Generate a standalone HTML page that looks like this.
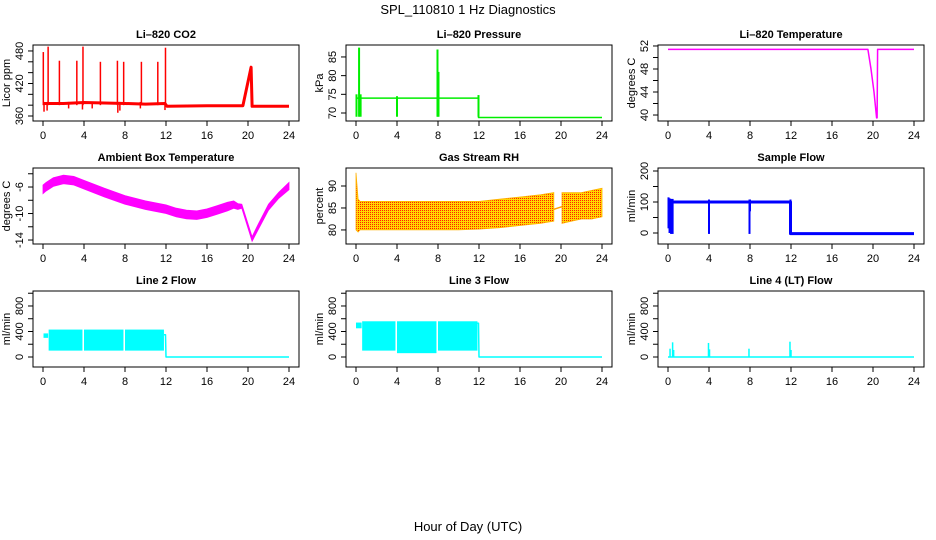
<!DOCTYPE html>
<html><head><meta charset="utf-8">
<style>
html,body{margin:0;padding:0;background:#fff;}
svg{display:block;font-family:"Liberation Sans",Arial,sans-serif;}
</style></head>
<body>
<svg id="chart" width="936" height="540" viewBox="0 0 936 540" xmlns="http://www.w3.org/2000/svg">
<defs>
<pattern id="rhpat" width="2" height="2" patternUnits="userSpaceOnUse">
<rect width="2" height="2" fill="#ffd800"/><rect width="1" height="1" fill="#ff2000"/>
</pattern>
</defs>
<text x="468" y="14" text-anchor="middle" font-size="13">SPL_110810  1 Hz Diagnostics</text>
<text x="468" y="531" text-anchor="middle" font-size="13">Hour of Day (UTC)</text>
</svg>
<script>
// ---------- data ----------
const xTicks = [0,4,8,12,16,20,24];
// CO2
const co2BaseT = [0,2,4,6,8,10,11.9,12.1,16,19.5,20.3,20.4,24];
const co2BaseV = [383,383,385,384,383,382,383,378,379,379,450,378,378];
const co2SpikeT = [0.03,0.5,1.6,3.3,3.9,5.6,7.26,7.87,9.6,11.2,11.95];
const co2SpikeV = [478,488,462,462,488,460,462,460,460,460,486];
const co2DipT = [0.1,0.4,2.5,3.85,4.8,7.3,7.5,9.5,11.9];
const co2DipV = [368,370,374,372,374,366,370,374,371];
// Pressure
const presBaseT = [0,11.95,11.95,24];
const presBaseV = [74,74,68.8,68.8];
const presSpikeT = [0.05,0.3,0.45,4,7.95,8.05,11.95];
const presSpikeLo = [69,69,69,69,69,69,69];
const presSpikeHi = [75,87.5,75,74.5,87,81,74.8];
// Li-820 temperature
const tempT = [0,19.5,19.8,20.1,20.35,20.4,20.45,24];
const tempV = [51.4,51.4,48,44,39.5,39.5,51.4,51.4];
// Ambient box temperature
const ambT = [0,0.3,1,2,3,4,6,8,10,12,13,14,15,16,17,18,18.6,19,19.4,20.4,21,22,23,24];
const ambHi = [-5.7,-5.3,-4.6,-4.2,-4.4,-5.0,-6.2,-7.3,-8.1,-8.7,-9.2,-9.5,-9.6,-9.3,-8.8,-8.3,-8.1,-8.5,-8.6,-13.5,-11.6,-8.6,-6.8,-5.3];
const ambLo = [-7.0,-6.6,-5.9,-5.5,-5.7,-6.3,-7.5,-8.6,-9.4,-10.0,-10.5,-10.8,-10.9,-10.6,-10.1,-9.6,-9.2,-9.4,-9.2,-14.2,-12.4,-9.5,-7.7,-6.4];
// Gas stream RH (two segments)
const rhT1 = [0,0.2,0.4,2,4,6,8,10,12,14,16,18,19.3];
const rhHi1 = [93,87,86.5,86.5,86.5,86.5,86.5,86.5,86.5,87,87.5,88,88.5];
const rhLo1 = [80,79.5,80,80,80,80,80,80,80.2,80.5,81,81.5,82];
const rhT2 = [20.1,21,22,23,24];
const rhHi2 = [88.5,88.5,88.5,89,89.5];
const rhLo2 = [81.5,82,82.5,82.5,83];
const rhGapT = [19.3,20.1];
const rhGapV = [84.7,85.3];
// Sample flow
const sfBaseT = [0.5,11.95,11.95,24];
const sfBaseV = [100,100,-2,-2];
const sfSpikeT = [0.05,0.15,0.3,0.45,4,7.95,8.0,11.95];
const sfSpikeLo = [15,0,-3,-3,-3,-3,70,-3];
const sfSpikeHi = [115,112,110,110,108,108,108,108];
// Line 2
const l2Start = [0.05,0.55,4.0,8.0];
const l2End = [0.5,3.85,7.85,11.8];
const l2Lo = [300,100,100,100];
const l2Hi = [370,430,430,430];
const l2TailT = [11.8,11.95,12.0,24];
const l2TailV = [350,350,0,0];
// Line 3
const l3Start = [0.0,0.6,4.0,8.0];
const l3End = [0.55,3.85,7.85,11.85];
const l3Lo = [450,100,60,100];
const l3Hi = [540,560,560,560];
const l3TailT = [11.85,11.95,12.0,24];
const l3TailV = [530,530,0,0];
// Line 4
const l4BaseT = [0,24];
const l4BaseV = [0,0];
const l4SpikeT = [0.2,0.45,0.55,3.95,4.05,7.9,11.9,12.0];
const l4SpikeV = [130,230,110,220,120,130,240,110];

// ---------- drawing ----------
const NS = "http://www.w3.org/2000/svg";
const svg = document.getElementById('chart');
function mk(tag, attrs, parent){
  const e = document.createElementNS(NS, tag);
  for (const k in attrs) e.setAttribute(k, attrs[k]);
  (parent||svg).appendChild(e);
  return e;
}
const colX = [33,346,658];
const rowY = [45,168,291];
const BW = 266, BH = 76;

function makePanel(col,row,title,ytitle,dom,ticks,labels,name){
  const L = colX[col], T = rowY[row];
  const g = mk('g',{});
  
  
  const xs = t => L + 10 + t*(BW-20)/24;
  const ys = v => T + BH - (v-dom[0])/(dom[1]-dom[0])*BH;
  const tt = mk('text',{x:L+BW/2,y:T-7,'text-anchor':'middle','font-size':11,'font-weight':'bold'},g);
  tt.textContent = title;
  
  
  const box = mk('rect',{x:L,y:T,width:BW,height:BH,fill:'none',stroke:'#000','stroke-width':1},g);
  
  
  const xa = mk('g',{},g);
  
  
  mk('line',{x1:xs(0),x2:xs(24),y1:T+BH,y2:T+BH,stroke:'#000'},xa);
  xTicks.forEach(t=>{
    mk('line',{x1:xs(t),x2:xs(t),y1:T+BH,y2:T+BH+5,stroke:'#000'},xa);
    const lb = mk('text',{x:xs(t),y:T+BH+18,'text-anchor':'middle','font-size':11},xa);
    lb.textContent = t;
    
    
  });
  const ya = mk('g',{},g);
  
  
  ticks.forEach(v=>{
    mk('line',{x1:L,x2:L-5,y1:ys(v),y2:ys(v),stroke:'#000'},ya);
  });
  labels.forEach(v=>{
    const lb = mk('text',{x:0,y:0,'text-anchor':'middle','font-size':11,transform:`translate(${L-10},${ys(v)}) rotate(-90)`},ya);
    lb.textContent = v;
    
    
  });
  const yt = mk('text',{x:0,y:0,'text-anchor':'middle','font-size':11,transform:`translate(${L-23},${T+BH/2}) rotate(-90)`},g);
  yt.textContent = ytitle;
  
  
  const data = mk('g',{},g);
  
  
  return {xs,ys,g:data};
}
function polyline(p,T,V,color,w){
  const pts = T.map((t,i)=>p.xs(t).toFixed(1)+','+p.ys(V[i]).toFixed(1)).join(' ');
  return mk('polyline',{points:pts,fill:'none',stroke:color,'stroke-width':w,'stroke-linejoin':'round'},p.g);
}
function band(p,T,Lo,Hi,fill){
  let d = 'M'+T.map((t,i)=>p.xs(t).toFixed(1)+','+p.ys(Hi[i]).toFixed(1)).join(' L');
  for(let i=T.length-1;i>=0;i--) d += ' L'+p.xs(T[i]).toFixed(1)+','+p.ys(Lo[i]).toFixed(1);
  d += 'Z';
  return mk('path',{d:d,fill:fill,stroke:fill==='url(#rhpat)'?'#ffb000':fill,'stroke-width':0.8},p.g);
}
function vline(p,t,lo,hi,color,w){
  return mk('line',{x1:p.xs(t),x2:p.xs(t),y1:p.ys(lo),y2:p.ys(hi),stroke:color,'stroke-width':w},p.g);
}
function rng(a,b,s){const r=[];for(let v=a;v<=b+1e-9;v+=s)r.push(v);return r;}

let p = makePanel(0,0,'Li\u2013820 CO2','Licor ppm',[350.8,491],rng(360,480,20),[360,420,480],'co2');
let e = polyline(p,co2BaseT,co2BaseV,'#ff0000',3);

co2SpikeT.forEach((t,i)=>{const s=vline(p,t,380,co2SpikeV[i],'#ff0000',1.5);
  });
co2DipT.forEach((t,i)=>{const s=vline(p,t,co2DipV[i],386,'#ff0000',1.5);
  });

p = makePanel(1,0,'Li\u2013820 Pressure','kPa',[67.86,88.2],[70,75,80,85],[70,75,80,85],'pressure');
e = polyline(p,presBaseT,presBaseV,'#00ee00',1.5);

presSpikeT.forEach((t,i)=>{const s=vline(p,t,presSpikeLo[i],presSpikeHi[i],'#00ee00',2);
  });

p = makePanel(2,0,'Li\u2013820 Temperature','degrees C',[38.96,52.17],rng(40,52,2),[40,44,48,52],'li820-temp');
e = polyline(p,tempT,tempV,'#ff00ff',1.5);


p = makePanel(0,1,'Ambient Box Temperature','degrees C',[-14.6,-3.13],rng(-14,-4,2),[-14,-10,-6],'ambient-temp');
e = band(p,ambT,ambLo,ambHi,'#ff00ff');


p = makePanel(1,1,'Gas Stream RH','percent',[76.8,94.1],[80,85,90],[80,85,90],'rh');
e = band(p,rhT1,rhLo1,rhHi1,'url(#rhpat)');

e = band(p,rhT2,rhLo2,rhHi2,'url(#rhpat)');

e = polyline(p,rhGapT,rhGapV,'#ffa000',1.5);


p = makePanel(2,1,'Sample Flow','ml/min',[-35.5,209.7],rng(0,200,50),[0,100,200],'sample-flow');
e = polyline(p,sfBaseT,sfBaseV,'#0000ff',3);

sfSpikeT.forEach((t,i)=>{const s=vline(p,t,sfSpikeLo[i],sfSpikeHi[i],'#0000ff',2);
  });

p = makePanel(0,2,'Line 2 Flow','ml/min',[-157,1035],rng(0,1000,200),[0,400,800],'line2-flow');
l2Start.forEach((t,i)=>{const r=mk('rect',{x:p.xs(t),y:p.ys(l2Hi[i]),width:p.xs(l2End[i])-p.xs(t),height:p.ys(l2Lo[i])-p.ys(l2Hi[i]),fill:'#00ffff'},p.g);
  });
e = polyline(p,l2TailT,l2TailV,'#00ffff',1.5);


p = makePanel(1,2,'Line 3 Flow','ml/min',[-157,1035],rng(0,1000,200),[0,400,800],'line3-flow');
l3Start.forEach((t,i)=>{const r=mk('rect',{x:p.xs(t),y:p.ys(l3Hi[i]),width:p.xs(l3End[i])-p.xs(t),height:p.ys(l3Lo[i])-p.ys(l3Hi[i]),fill:'#00ffff'},p.g);
  });
e = polyline(p,l3TailT,l3TailV,'#00ffff',1.5);


p = makePanel(2,2,'Line 4 (LT) Flow','ml/min',[-157,1035],rng(0,1000,200),[0,400,800],'line4-flow');
e = polyline(p,l4BaseT,l4BaseV,'#00ffff',1.5);

l4SpikeT.forEach((t,i)=>{const s=vline(p,t,0,l4SpikeV[i],'#00ffff',1.5);
  });
</script>
</body></html>
